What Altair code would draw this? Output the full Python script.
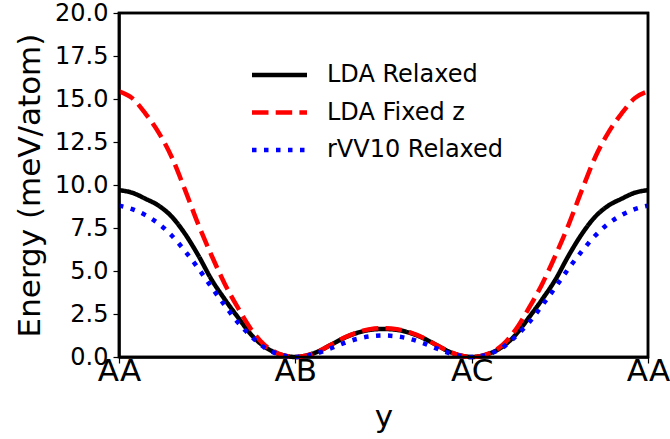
import altair as alt
import pandas as pd

# positions along the path AA -> AB -> AC -> AA (fraction of path)
x_pos = [0.0, 0.025, 0.05, 0.075, 0.10, 0.125, 0.15, 0.175, 0.20, 0.225, 0.25, 0.275, 0.30, 1/3,
         0.35, 0.375, 0.40, 0.425, 0.45, 0.475, 0.50,
         0.525, 0.55, 0.575, 0.60, 0.625, 0.65, 2/3, 0.70, 0.725, 0.75, 0.775, 0.80, 0.825,
         0.85, 0.875, 0.90, 0.925, 0.95, 0.975, 1.0]

lda_relaxed = [9.7, 9.55, 9.2, 8.8, 8.15, 7.15, 5.9, 4.5, 3.35, 2.3, 1.3, 0.6, 0.2, 0.0,
               0.06, 0.3, 0.7, 1.1, 1.4, 1.58, 1.63,
               1.58, 1.4, 1.1, 0.7, 0.3, 0.06, 0.0, 0.2, 0.6, 1.3, 2.3, 3.35, 4.5,
               5.9, 7.15, 8.15, 8.8, 9.2, 9.55, 9.7]

lda_fixed = [15.45, 15.05, 14.15, 13.05, 11.6, 9.7, 7.7, 5.9, 4.25, 2.85, 1.6, 0.7, 0.22, 0.0,
             0.06, 0.3, 0.7, 1.12, 1.43, 1.62, 1.68,
             1.62, 1.43, 1.12, 0.7, 0.3, 0.06, 0.0, 0.22, 0.7, 1.6, 2.85, 4.25, 5.9,
             7.7, 9.7, 11.6, 13.05, 14.15, 15.05, 15.45]

rvv10_relaxed = [8.8, 8.6, 8.25, 7.75, 7.05, 6.15, 5.15, 4.05, 3.0, 2.0, 1.2, 0.55, 0.18, 0.0,
                 0.05, 0.22, 0.5, 0.8, 1.05, 1.2, 1.25,
                 1.2, 1.05, 0.8, 0.5, 0.22, 0.05, 0.0, 0.18, 0.55, 1.2, 2.0, 3.0, 4.05,
                 5.15, 6.15, 7.05, 7.75, 8.25, 8.6, 8.8]

series_names = ["LDA Relaxed", "LDA Fixed z", "rVV10 Relaxed"]
series_values = [lda_relaxed, lda_fixed, rvv10_relaxed]
series_colors = ["#000000", "#ff0000", "#0000ff"]
series_dashes = [[1, 0], [16.5, 7.2], [4.5, 7.5]]

tick_positions = [0, 1/3, 2/3, 1]
tick_labels = ["AA", "AB", "AC", "AA"]
y_ticks = [0, 2.5, 5, 7.5, 10, 12.5, 15, 17.5, 20]
x_domain = [0, 1]
y_domain = [0, 20]

label_expr = ("datum.value < 0.1 ? '" + tick_labels[0] + "' : datum.value < 0.5 ? '" + tick_labels[1]
              + "' : datum.value < 0.9 ? '" + tick_labels[2] + "' : '" + tick_labels[3] + "'")

FONT = "DejaVu Sans"

x_enc = alt.X("pos:Q", title="y",
              scale=alt.Scale(domain=x_domain, nice=False, zero=False),
              axis=alt.Axis(values=tick_positions, labelExpr=label_expr, grid=False,
                            labelFont=FONT, labelFontSize=31, labelColor="black",
                            labelPadding=-7, tickSize=6, tickColor="black", tickWidth=1.2,
                            domain=True, domainColor="black", domainWidth=2.5,
                            titleFont=FONT, titleFontSize=31,
                            titleFontWeight="normal", titleColor="black", titlePadding=16,
                            labelFlush=False))
y_enc = alt.Y("energy:Q", title="Energy (meV/atom)",
              scale=alt.Scale(domain=y_domain, nice=False),
              axis=alt.Axis(values=y_ticks, format=".1f",
                            grid=False, labelFont=FONT, labelFontSize=24, labelColor="black",
                            labelPadding=5, tickSize=6, tickColor="black", tickWidth=1.2,
                            domain=True, domainColor="black", domainWidth=2.5,
                            titleFont=FONT, titleFontSize=31,
                            titleFontWeight="normal", titleColor="black", titlePadding=8))

layers = []
for name, vals, col, dash in zip(series_names, series_values, series_colors, series_dashes):
    sdf = pd.DataFrame({"pos": x_pos, "energy": vals})
    layers.append(
        alt.Chart(sdf).mark_line(color=col, strokeDash=dash, strokeWidth=4.5,
                                 interpolate="monotone").encode(x=x_enc, y=y_enc)
    )

one = pd.DataFrame({"k": [0]})

# box around the plot area
frame = alt.Chart(one).mark_rect(fillOpacity=0, stroke="black", strokeWidth=2.5).encode(
    x=alt.X(datum=x_domain[0], type="quantitative"),
    x2=alt.X2(datum=x_domain[1]),
    y=alt.Y(datum=y_domain[0], type="quantitative"),
    y2=alt.Y2(datum=y_domain[1]),
)

# legend drawn inside the plot (sample line + label per series)
legend_layers = []
for i, (name, col, dash) in enumerate(zip(series_names, series_colors, series_dashes)):
    yc = 62 + i * 37.5
    legend_layers.append(
        alt.Chart(one).mark_rule(color=col, strokeDash=dash, strokeWidth=4.5).encode(
            x=alt.value(133), x2=alt.value(188), y=alt.value(yc))
    )
    legend_layers.append(
        alt.Chart(one).mark_text(text=name, align="left", baseline="middle", font=FONT,
                                 fontSize=24, color="black").encode(
            x=alt.value(208), y=alt.value(yc))
    )

chart = alt.layer(*layers, frame, *legend_layers).properties(
    width=529, height=344,
    autosize=alt.AutoSizeParams(type="none"),
    padding={"left": 119, "top": 13, "right": 22, "bottom": 82},
    background="white",
).configure_view(
    stroke="black", strokeWidth=2.5
)

chart.save("out.html", embed_options={"renderer": "svg", "actions": False})
